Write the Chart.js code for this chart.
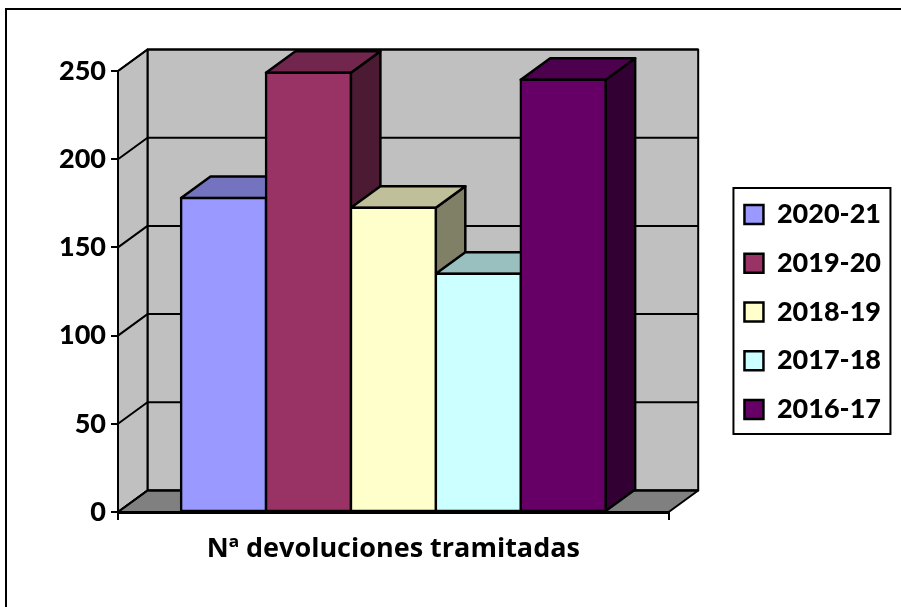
<!DOCTYPE html>
<html>
<head>
<meta charset="utf-8">
<script src="https://cdn.jsdelivr.net/npm/chart.js@4"></script>
<style>
  html, body { margin: 0; padding: 0; background: #fff; overflow: hidden; }
  #frame { position: absolute; left: 5px; top: 8px; right: -4px; bottom: -4px; border: 2px solid #000; }
  canvas { position: absolute; left: 0; top: 0; }
</style>
</head>
<body>
<div id="frame"></div>
<canvas id="chart" width="901" height="607"></canvas>
<script>
// Data
const categories = ['Nª devoluciones tramitadas'];
const seriesNames = ['2020-21', '2019-20', '2018-19', '2017-18', '2016-17'];
const values2021 = [178];
const values1920 = [249];
const values1819 = [172.5];
const values1718 = [135];
const values1617 = [245];
const seriesValues = [values2021, values1920, values1819, values1718, values1617];
const yTicks = [0, 50, 100, 150, 200, 250];

const barColors = ['#9999FF', '#993366', '#FFFFCC', '#CCFFFF', '#660066'];
const fontName = 'Lato, Carlito, sans-serif';

// Excel style depth of the 3D box
const depthX = 29.5;
const depthY = 21.5;

function shade(hex, f) {
    const n = parseInt(hex.slice(1), 16);
    const c = [n >> 16, (n >> 8) & 255, n & 255].map(v => Math.round(v * f));
    return `rgb(${c[0]}, ${c[1]}, ${c[2]})`;
}

function poly(ctx, pts, fill, lineWidth) {
    ctx.beginPath();
    pts.forEach((p, i) => i ? ctx.lineTo(p[0], p[1]) : ctx.moveTo(p[0], p[1]));
    ctx.closePath();
    ctx.fillStyle = fill;
    ctx.fill();
    ctx.lineWidth = lineWidth;
    ctx.strokeStyle = '#000';
    ctx.lineJoin = 'round';
    ctx.stroke();
}

// Walls, floor and gridlines behind the bars
const box3d = {
    id: 'box3d',
    beforeDraw(chart) {
        const ctx = chart.ctx;
        const a = chart.chartArea;
        const y = chart.scales.y;
        ctx.save();
        poly(ctx, [[a.left + depthX, a.top - depthY], [a.right + depthX, a.top - depthY],
            [a.right + depthX, a.bottom - depthY], [a.left + depthX, a.bottom - depthY]], '#C0C0C0', 2);
        poly(ctx, [[a.left, a.top], [a.left + depthX, a.top - depthY],
            [a.left + depthX, a.bottom - depthY], [a.left, a.bottom]], '#C0C0C0', 2);
        poly(ctx, [[a.left, a.bottom], [a.left + depthX, a.bottom - depthY],
            [a.right + depthX, a.bottom - depthY], [a.right, a.bottom]], '#808080', 2);
        ctx.lineWidth = 2;
        ctx.strokeStyle = '#000';
        yTicks.forEach(t => {
            const py = y.getPixelForValue(t);
            ctx.beginPath();
            ctx.moveTo(a.left, py);
            ctx.lineTo(a.left + depthX, py - depthY);
            ctx.lineTo(a.right + depthX, py - depthY);
            ctx.stroke();
        });
        ctx.restore();
    },
    // tops and sides; the native bars paint the front faces over them afterwards
    beforeDatasetsDraw(chart) {
        const ctx = chart.ctx;
        ctx.save();
        seriesNames.forEach((name, i) => {
            const bar = chart.getDatasetMeta(i).data[0];
            const l = bar.x - bar.width / 2;
            const r = bar.x + bar.width / 2;
            poly(ctx, [[r, bar.y], [r + depthX, bar.y - depthY], [r + depthX, bar.base - depthY], [r, bar.base]],
                shade(barColors[i], 0.5), 2.5);
            poly(ctx, [[l, bar.y], [l + depthX, bar.y - depthY], [r + depthX, bar.y - depthY], [r, bar.y]],
                shade(barColors[i], 0.75), 2.5);
        });
        ctx.restore();
    },
    // the box around the legend
    afterDraw(chart) {
        const boxes = chart.legend.legendHitBoxes;
        const ctx = chart.ctx;
        const first = boxes[0];
        const last = boxes[boxes.length - 1];
        ctx.save();
        ctx.lineWidth = 2;
        ctx.strokeStyle = '#000';
        ctx.strokeRect(first.left - 11, first.top - 13, 157, last.top + last.height - first.top + 24);
        ctx.restore();
    }
};

new Chart(document.getElementById('chart'), {
    type: 'bar',
    data: {
        labels: categories,
        datasets: seriesNames.map((name, i) => ({
            label: name,
            data: seriesValues[i],
            backgroundColor: barColors[i],
            borderColor: '#000',
            borderWidth: 2.5,
            borderSkipped: false,
            inflateAmount: 1.25
        }))
    },
    options: {
        responsive: false,
        animation: false,
        categoryPercentage: 0.771,
        barPercentage: 1,
        layout: { padding: { left: 0, right: 10, top: 71, bottom: 54 } },
        scales: {
            x: {
                grid: { drawOnChartArea: false, color: '#000', lineWidth: 2, tickLength: 8 },
                border: { color: '#000', width: 3, z: 1 },
                ticks: { display: false },
                // title hangs under the box so the legend stays centred on the page
                title: { display: true, text: categories[0], color: '#000', padding: { top: 0, bottom: -13 },
                    font: { family: '"Open Sans", sans-serif', size: 27, weight: 'bold' } },
                afterFit: s => { s.height = 41; }
            },
            y: {
                min: 0,
                max: 250,
                afterBuildTicks: s => { s.ticks = yTicks.map(v => ({ value: v })); },
                grid: { drawOnChartArea: false, color: '#000', lineWidth: 2, tickLength: 7 },
                border: { color: '#000', width: 2 },
                ticks: { color: '#000', padding: 5, font: { family: fontName, size: 27, weight: 900 } },
                afterFit: s => { s.width = 118; }
            },
            // empty axis, only keeps the gap between the box and the legend
            gap: {
                type: 'linear',
                position: 'right',
                display: true,
                grid: { display: false },
                border: { display: false },
                ticks: { display: false },
                afterFit: s => { s.width = 54; }
            }
        },
        plugins: {
            tooltip: { enabled: false },
            legend: {
                position: 'right',
                maxWidth: 200,
                labels: {
                    color: '#000',
                    boxWidth: 19,
                    boxHeight: 19,
                    padding: 21.75,
                    font: { family: fontName, size: 27, weight: 900 }
                }
            }
        }
    },
    plugins: [box3d]
});
</script>
</body>
</html>
